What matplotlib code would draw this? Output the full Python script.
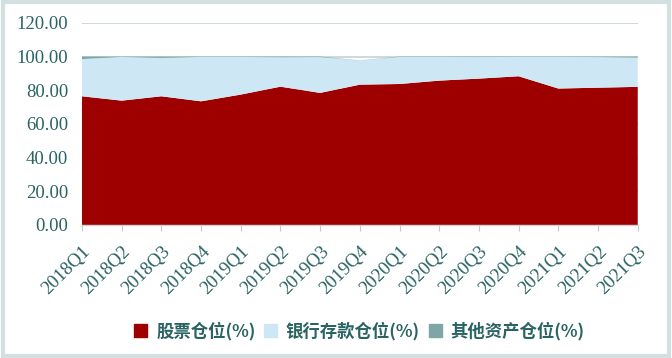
import numpy as np
import matplotlib.pyplot as plt
from matplotlib.patches import Rectangle

quarters = ["2018Q1", "2018Q2", "2018Q3", "2018Q4", "2019Q1", "2019Q2", "2019Q3",
            "2019Q4", "2020Q1", "2020Q2", "2020Q3", "2020Q4", "2021Q1", "2021Q2", "2021Q3"]
stock = [76.4, 73.8, 76.4, 73.4, 77.4, 82.1, 78.4, 83.3, 83.7, 85.7, 86.9, 88.3, 81.0, 81.5, 82.0]
bank = [22.1, 26.0, 22.8, 26.4, 22.4, 17.5, 21.3, 14.3, 16.1, 14.1, 12.8, 11.5, 18.8, 18.2, 17.4]
other = [1.5, 0.2, 0.8, 0.2, 0.2, 0.4, 0.3, 0.1, 0.2, 0.2, 0.3, 0.2, 0.2, 0.3, 0.6]
series_names = ["股票仓位(%)", "银行存款仓位(%)", "其他资产仓位(%)"]
colors = ["#9E0000", "#CDE8F4", "#7FA6A6"]
txt = "#2A6363"

plt.rcParams['font.family'] = ['Liberation Serif', 'Noto Sans CJK SC']

fig = plt.figure(figsize=(6.72, 3.58), dpi=100)
ax = fig.add_axes([0.122, 0.372, 0.827, 0.564])

x = np.arange(len(quarters))
ax.stackplot(x, stock, bank, other, colors=colors, linewidth=0, zorder=2)

ax.set_xlim(0, len(quarters) - 1)
ax.set_ylim(0, 120)
ax.set_yticks(np.arange(0, 121, 20))
ax.set_yticklabels(["%.2f" % v for v in np.arange(0, 121, 20)], fontsize=13.5, color=txt)
ax.yaxis.grid(True, color="#C5D3D3", linewidth=1.2, zorder=0)
ax.tick_params(axis='y', length=0, pad=10)

ax.set_xticks(x)
ax.set_xticklabels(quarters, rotation=45, ha='right', rotation_mode='anchor',
                   fontsize=13.5, color=txt)
ax.tick_params(axis='x', length=4, color="#C8C8C8", pad=9)

for s in ['top', 'right', 'left']:
    ax.spines[s].set_visible(False)
ax.spines['bottom'].set_color("#D0D0D0")

handles = [Rectangle((0, 0), 1, 1, color=c) for c in colors]
leg = fig.legend(handles, series_names, loc='center', bbox_to_anchor=(0.535, 0.075),
                 ncol=3, frameon=False, handlelength=0.75, handleheight=0.75,
                 handletextpad=0.5, columnspacing=0.5,
                 prop={'family': ['Noto Sans CJK SC'], 'size': 12.5, 'weight': 'bold'})
for t in leg.get_texts():
    t.set_color(txt)

# outer frame
fig.patches.append(Rectangle((0.004, 0.006), 0.992, 0.988, transform=fig.transFigure,
                             fill=False, edgecolor="#D3E0E0", linewidth=3))

fig.savefig("out.png", dpi=100)
